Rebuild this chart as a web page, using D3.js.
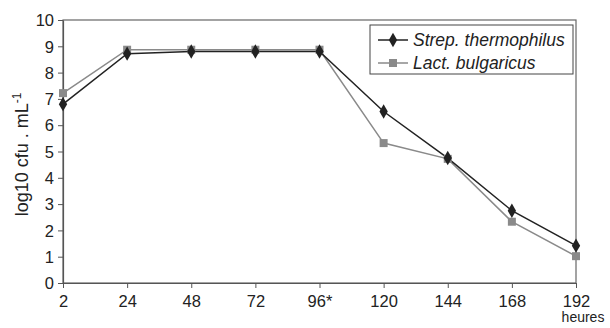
<!DOCTYPE html>
<html>
<head>
<meta charset="utf-8">
<script src="https://cdn.jsdelivr.net/npm/d3@7"></script>
<style>
  body { margin: 0; background: #fff; }
  svg { display: block; font-family: "Liberation Sans", Arial, sans-serif; }
</style>
</head>
<body>
<svg id="chart"></svg>
<script>
// data
const hours = ['2', '24', '48', '72', '96*', '120', '144', '168', '192'];
const strep = [6.8, 8.72, 8.8, 8.8, 8.8, 6.52, 4.75, 2.75, 1.42];
const lact = [7.22, 8.87, 8.87, 8.87, 8.87, 5.32, 4.72, 2.33, 1.02];
const yTicks = [0, 1, 2, 3, 4, 5, 6, 7, 8, 9, 10];

const width = 610, height = 328;
const margin = { top: 20, right: 34, bottom: 45, left: 63 };

const svg = d3.select('#chart')
  .attr('width', width)
  .attr('height', height);

const x = d3.scalePoint()
  .domain(hours)
  .range([margin.left, width - margin.right]);

const y = d3.scaleLinear()
  .domain([0, 10])
  .range([height - margin.bottom, margin.top]);

// plot frame
svg.append('rect')
  .attr('x', margin.left)
  .attr('y', margin.top)
  .attr('width', width - margin.right - margin.left)
  .attr('height', height - margin.bottom - margin.top)
  .attr('fill', 'none')
  .attr('stroke', '#666')
  .attr('stroke-width', 1.2);

// axes
const xAxis = svg.append('g')
  .attr('transform', 'translate(0,' + (height - margin.bottom) + ')')
  .call(d3.axisBottom(x).tickSize(5).tickSizeOuter(0));

const yAxis = svg.append('g')
  .attr('transform', 'translate(' + margin.left + ',0)')
  .call(d3.axisLeft(y).tickValues(yTicks).tickSize(5).tickSizeOuter(0));

[xAxis, yAxis].forEach(function (g) {
  g.select('.domain').attr('stroke', '#555').attr('stroke-width', 1.2);
  g.selectAll('.tick line').attr('stroke', '#555');
  g.selectAll('.tick text')
    .attr('fill', '#222')
    .style('font-size', '16.5px')
    .style('font-family', '"Liberation Sans", Arial, sans-serif');
});
xAxis.selectAll('.tick text').attr('dy', '0.95em');
yAxis.selectAll('.tick text').attr('dx', '-1px').attr('dy', '0.35em');

// axis titles
const yTitle = svg.append('text')
  .attr('transform', 'translate(28,' + ((margin.top + height - margin.bottom) / 2 + 3) + ') rotate(-90)')
  .attr('text-anchor', 'middle')
  .attr('fill', '#222')
  .style('font-size', '18px');
yTitle.append('tspan').text('log10 cfu . mL');
yTitle.append('tspan').attr('dy', '-7').style('font-size', '12px').text('-1');

svg.append('text')
  .attr('x', 583)
  .attr('y', 322)
  .attr('text-anchor', 'middle')
  .attr('fill', '#222')
  .style('font-size', '14px')
  .text('heures');

// series
const line = d3.line()
  .x(function (d, i) { return x(hours[i]); })
  .y(function (d) { return y(d); });

const series = [
  { name: 'Strep. thermophilus', values: strep, color: '#222', marker: d3.symbolDiamond, size: 60 },
  { name: 'Lact. bulgaricus', values: lact, color: '#8a8a8a', marker: d3.symbolSquare, size: 64 }
];

// draw lact first so strep lines sit on top, then markers
series.slice().reverse().forEach(function (s) {
  svg.append('path')
    .datum(s.values)
    .attr('d', line)
    .attr('fill', 'none')
    .attr('stroke', s.color)
    .attr('stroke-width', 1.5);
});

series.slice().reverse().forEach(function (s) {
  svg.append('g')
    .selectAll('path')
    .data(s.values)
    .enter()
    .append('path')
    .attr('transform', function (d, i) { return 'translate(' + x(hours[i]) + ',' + y(d) + ')'; })
    .attr('d', d3.symbol().type(s.marker).size(s.size))
    .attr('fill', s.color);
});

// legend
const legend = svg.append('g').attr('transform', 'translate(370,25)');
legend.append('rect')
  .attr('width', 203)
  .attr('height', 49)
  .attr('fill', '#fff')
  .attr('stroke', '#444')
  .attr('stroke-width', 1);

series.forEach(function (s, i) {
  const row = legend.append('g').attr('transform', 'translate(0,' + (15 + i * 23) + ')');
  row.append('line')
    .attr('x1', 8).attr('x2', 38)
    .attr('stroke', s.color)
    .attr('stroke-width', 1.5);
  row.append('path')
    .attr('transform', 'translate(23,0)')
    .attr('d', d3.symbol().type(s.marker).size(s.size))
    .attr('fill', s.color);
  row.append('text')
    .attr('x', 43)
    .attr('dy', '0.35em')
    .attr('fill', '#222')
    .style('font-size', '17.5px')
    .style('font-style', 'italic')
    .text(s.name);
});
</script>
</body>
</html>
